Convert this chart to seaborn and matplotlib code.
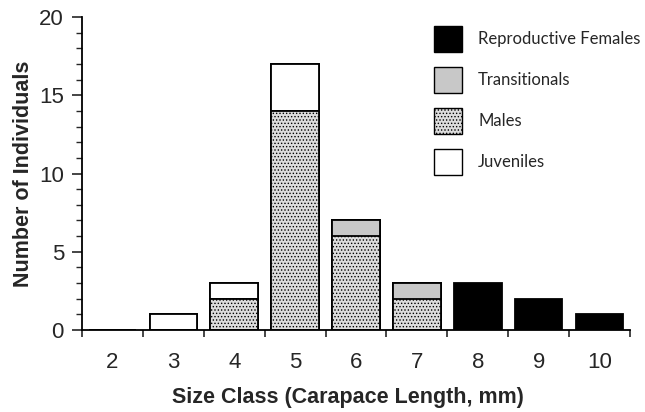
import matplotlib
matplotlib.use("Agg")
import matplotlib.pyplot as plt
import seaborn as sns
import pandas as pd
import numpy as np
from matplotlib.patches import Patch

size_classes = ["2", "3", "4", "5", "6", "7", "8", "9", "10"]
males = [0, 0, 2, 14, 6, 2, 0, 0, 0]
transitionals = [0, 0, 0, 0, 1, 1, 0, 0, 0]
juveniles = [0, 1, 1, 3, 0, 0, 0, 0, 0]
repro_females = [0, 0, 0, 0, 0, 0, 3, 2, 1]

sns.set_theme(style="ticks")
plt.rcParams["font.family"] = ["Liberation Sans", "DejaVu Sans"]
plt.rcParams["hatch.linewidth"] = 0.6

fig = plt.figure(figsize=(6.45, 4.12), dpi=100)
ax = fig.add_axes([82/645, 1-330/412, (630-82)/645, (330-17)/412])

m = np.array(males)
t = np.array(transitionals)
j = np.array(juveniles)
r = np.array(repro_females)

layers = [
    ("Reproductive Females", m + t + j + r, dict(color="black", edgecolor="black")),
    ("Juveniles", m + t + j, dict(color="white", edgecolor="black")),
    ("Transitionals", m + t, dict(color="#c8c8c8", edgecolor="black")),
    ("Males", m, dict(color="#dcdcdc", edgecolor="black", hatch=".....")),
]
for name, vals, style in layers:
    df = pd.DataFrame({"size": size_classes, "n": vals})
    sns.barplot(data=df, x="size", y="n", order=size_classes, ax=ax,
                width=0.78, linewidth=1.3, errorbar=None, saturation=1, **style)

ax.set_ylim(0, 20)
ax.set_xlim(-0.5, 8.5)
ax.set_yticks([0, 5, 10, 15, 20])
ax.set_yticks(np.arange(0, 21, 1), minor=True)
ax.set_xticks(np.arange(-0.5, 9, 1), minor=True)
ax.set_xticks(range(9))
ax.set_xticklabels(size_classes)
ax.tick_params(axis="x", which="major", length=0, pad=16, labelsize=16)
ax.tick_params(axis="x", which="minor", length=5, width=1.2, direction="out")
ax.tick_params(axis="y", which="major", length=7, width=1.2, labelsize=16, pad=6)
ax.tick_params(axis="y", which="minor", length=4, width=1.0)
sns.despine(ax=ax)
for s in ["left", "bottom"]:
    ax.spines[s].set_linewidth(1.3)
    ax.spines[s].set_color("black")

ax.set_xlabel("Size Class (Carapace Length, mm)", fontsize=15.5, fontweight="bold")
ax.xaxis.set_label_coords(0.486, -0.183, transform=ax.transAxes)
ax.set_ylabel("Number of Individuals", fontsize=15.5, fontweight="bold", labelpad=4)

handles = [
    Patch(facecolor="black", edgecolor="black", label="Reproductive Females"),
    Patch(facecolor="#c8c8c8", edgecolor="black", label="Transitionals"),
    Patch(facecolor="#dcdcdc", edgecolor="black", hatch=".....", label="Males"),
    Patch(facecolor="white", edgecolor="black", label="Juveniles"),
]
fig.legend(handles=handles, loc="upper left", bbox_to_anchor=(434/645, 1-26/412),
           frameon=False, prop={"family": "Lato", "size": 12},
           handlelength=1.68, handleheight=2.02, labelspacing=0.9,
           handletextpad=0.96, borderpad=0, borderaxespad=0)

fig.savefig("out.png", dpi=100)
